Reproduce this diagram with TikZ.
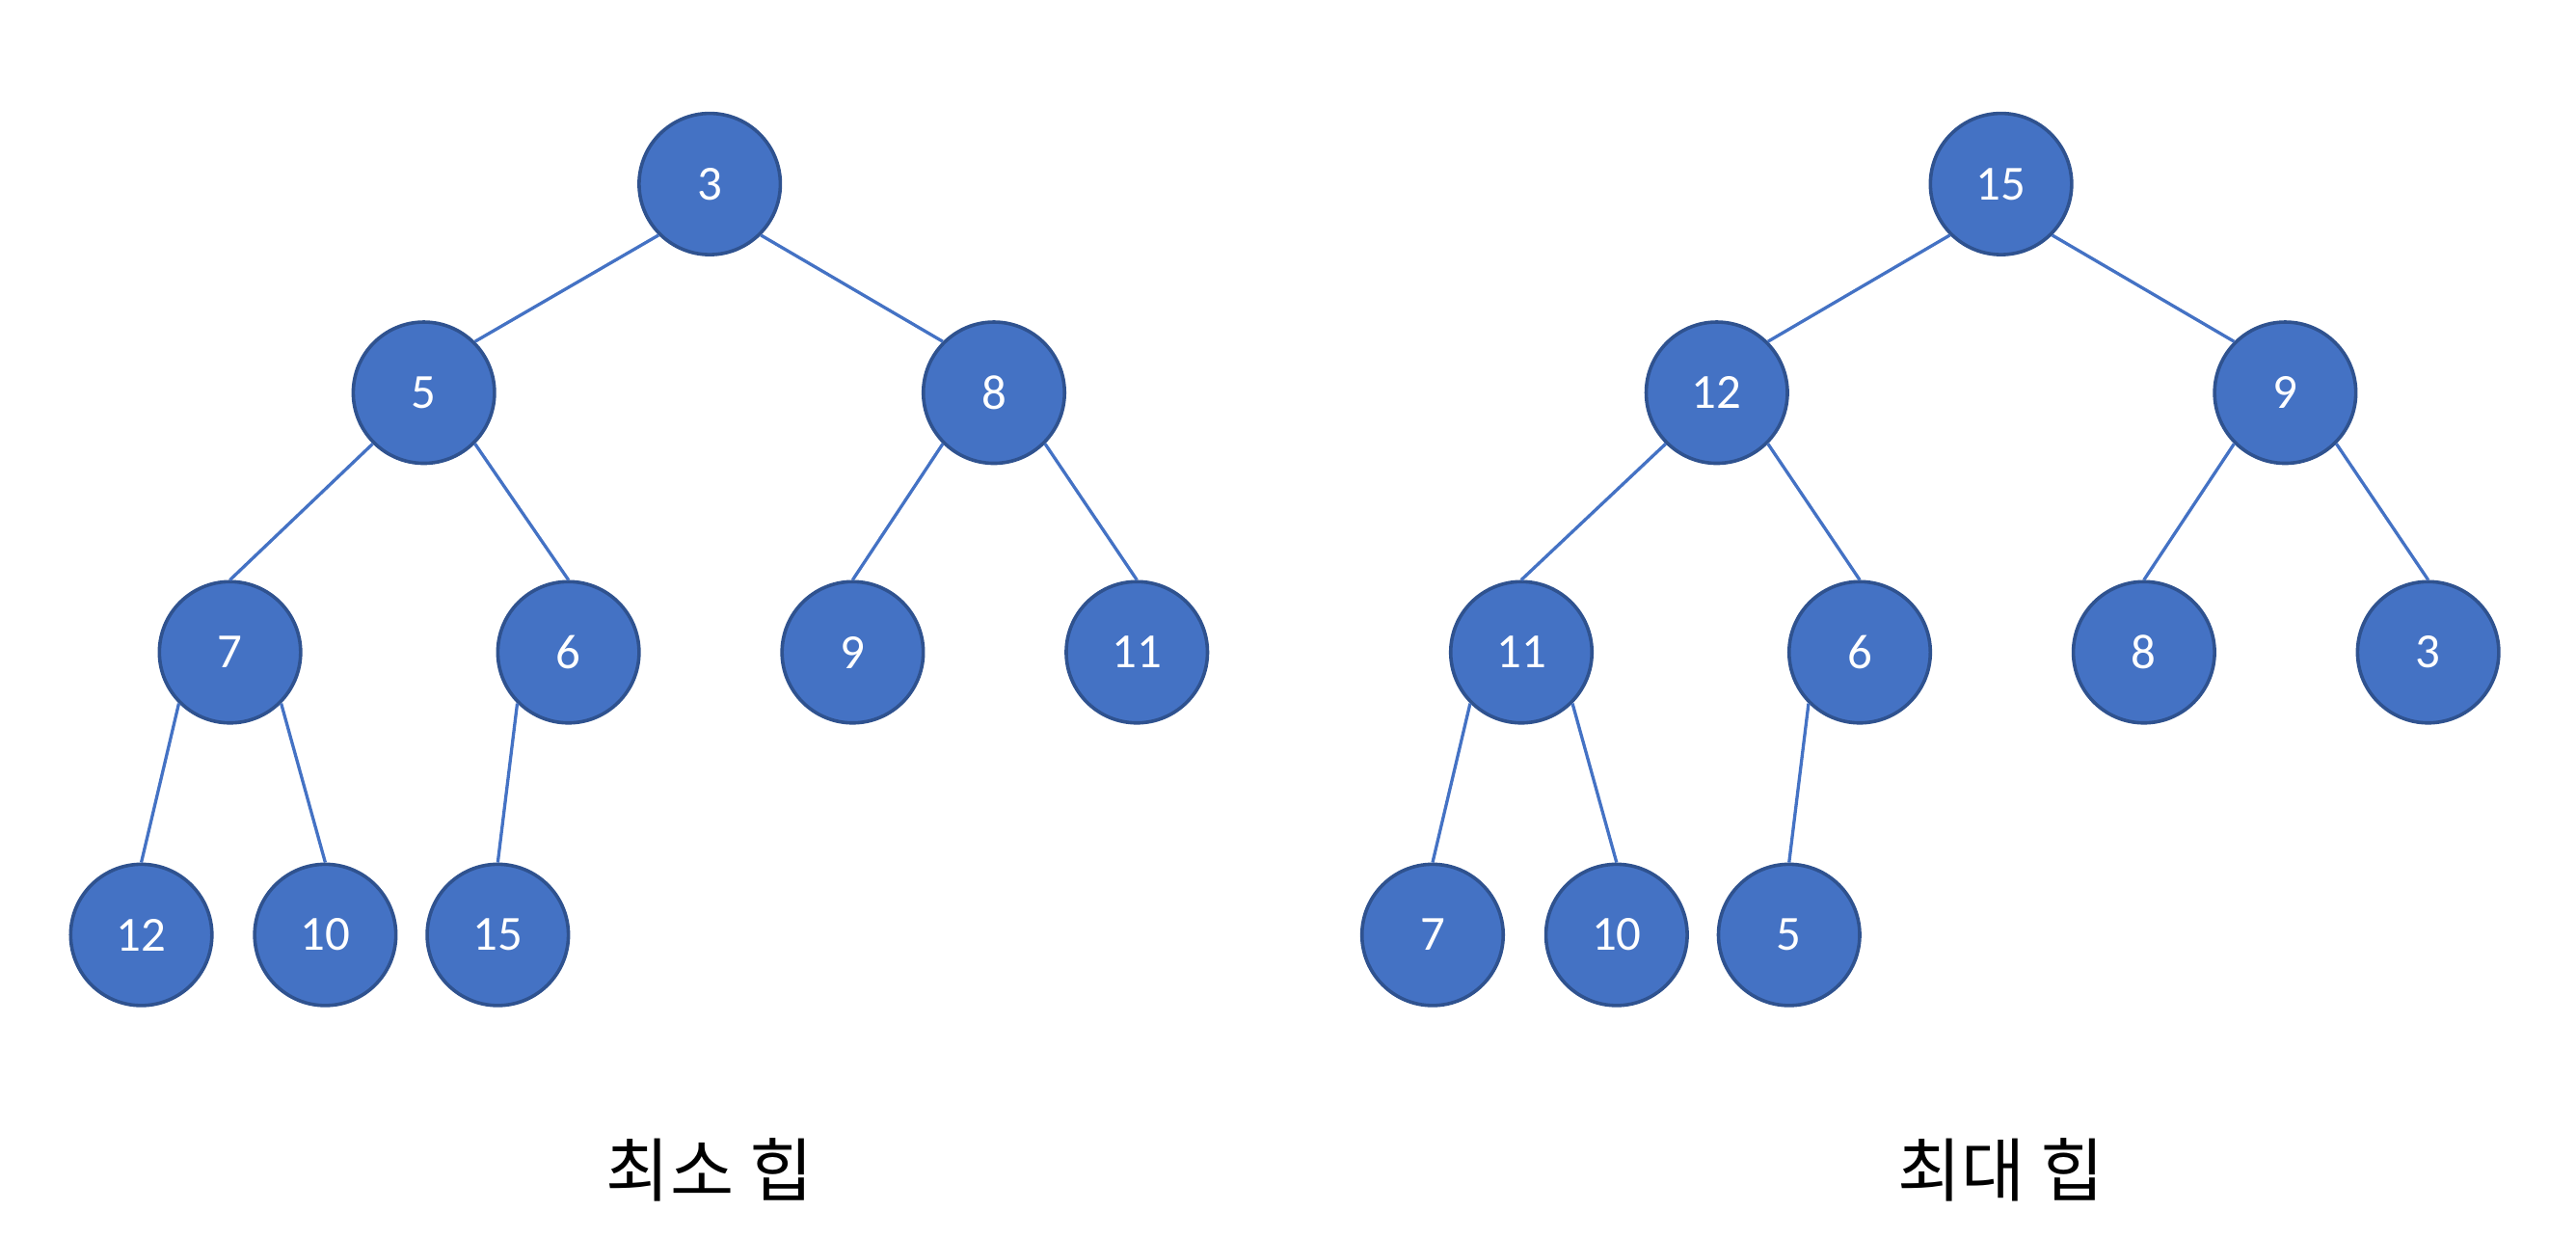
\documentclass[tikz,border=0pt]{standalone}
\usepackage{fontspec}
\setmainfont{Carlito}
\newfontfamily\kofont{Noto Sans CJK KR}
\usetikzlibrary{positioning}
\definecolor{heapfill}{HTML}{4472C4}
\definecolor{heapdraw}{HTML}{2F528F}

\begin{document}
\begin{tikzpicture}[
    x=0.02cm, y=-0.02cm,
    heapnode/.style={circle, draw=heapdraw, fill=heapfill, line width=1.2pt, minimum size=1.72cm, inner sep=0pt, text=white, font=\fontsize{17}{20}\selectfont},
    link/.style={draw=heapfill, line width=1.1pt},
    caption/.style={font=\kofont\fontsize{24}{29}\selectfont},
]
    \useasboundingbox (0,0) rectangle (1568,753);

    % Min heap
    \node[heapnode] (l3) at (432,112) {3};
    \node[heapnode] (l5) at (258,239) {5};
    \node[heapnode] (l8) at (605,239) {8};
    \node[heapnode] (l7) at (140,397) {7};
    \node[heapnode] (l6) at (346,397) {6};
    \node[heapnode] (l9) at (519,397) {9};
    \node[heapnode] (l11) at (692,397) {11};
    \node[heapnode] (l12) at (86,569) {12};
    \node[heapnode] (l10) at (198,569) {10};
    \node[heapnode] (l15) at (303,569) {15};

    % Max heap
    \node[heapnode] (r15) at (1218,112) {15};
    \node[heapnode] (r12) at (1045,239) {12};
    \node[heapnode] (r9) at (1391,239) {9};
    \node[heapnode] (r11) at (926,397) {11};
    \node[heapnode] (r6) at (1132,397) {6};
    \node[heapnode] (r8) at (1305,397) {8};
    \node[heapnode] (r3) at (1478,397) {3};
    \node[heapnode] (r7) at (872,569) {7};
    \node[heapnode] (r10) at (984,569) {10};
    \node[heapnode] (r5) at (1089,569) {5};

    % Edges (root to its children)
    \foreach \p/\c in {l3/l5, r15/r12} {
        \draw[link] (\p.225) -- (\c.45);
    }
    \foreach \p/\c in {l3/l8, r15/r9} {
        \draw[link] (\p.315) -- (\c.135);
    }
    % Edges (lower levels)
    \foreach \p/\c in {l5/l7, l8/l9, l7/l12, l6/l15, r12/r11, r9/r8, r11/r7, r6/r5} {
        \draw[link] (\p.225) -- (\c.north);
    }
    \foreach \p/\c in {l5/l6, l8/l11, l7/l10, r12/r6, r9/r3, r11/r10} {
        \draw[link] (\p.315) -- (\c.north);
    }

    % Captions
    \node[caption] (mincap) at (432,712) {최소 힙};
    \node[caption] (maxcap) at (1218,712) {최대 힙};
\end{tikzpicture}
\end{document}
